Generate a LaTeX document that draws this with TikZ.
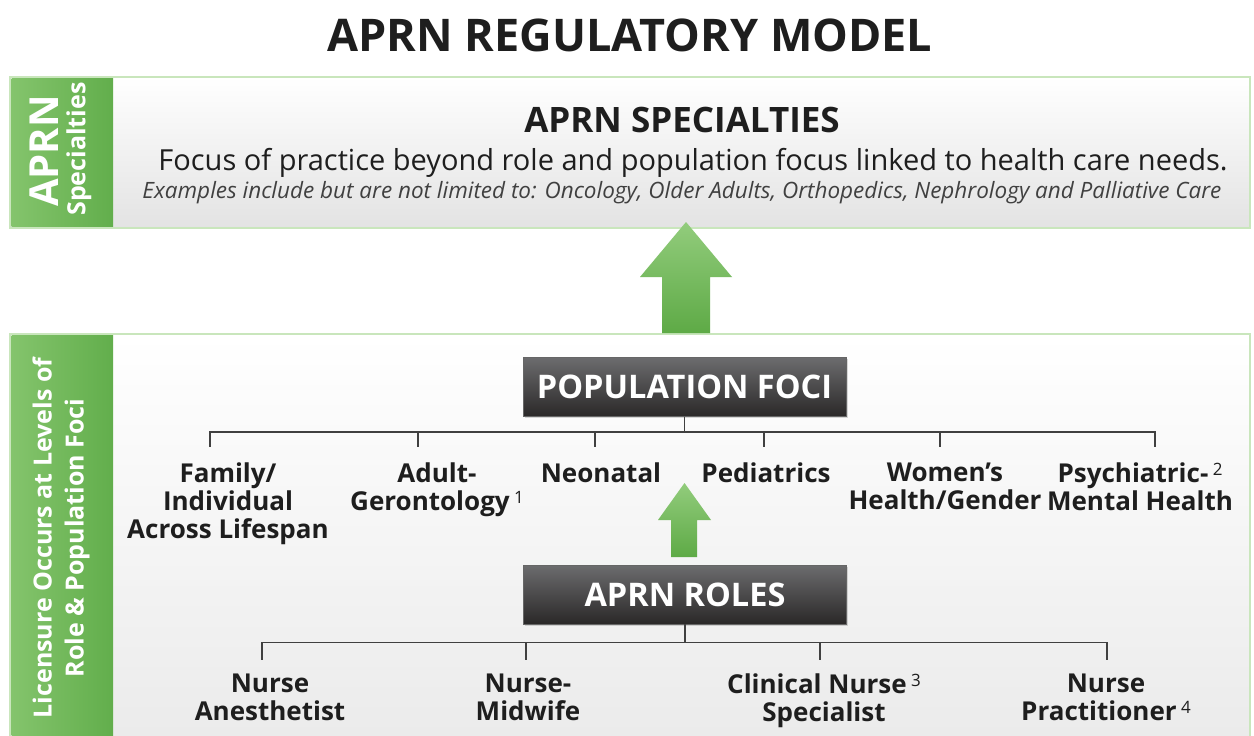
\documentclass[tikz,border=0pt]{standalone}
\usepackage{fontspec}
\setmainfont{Open Sans}
\usetikzlibrary{shadows}
\definecolor{sidegreen}{HTML}{62AE4C}
\definecolor{sidegreenL}{HTML}{84C46C}
\definecolor{boxborder}{HTML}{C9E6BC}
\definecolor{darktop}{HTML}{6C6C6E}
\definecolor{darkbot}{HTML}{2A2828}
\definecolor{arrtop}{HTML}{92CC7C}
\definecolor{arrbot}{HTML}{5EAA46}
\definecolor{txt}{HTML}{1E1E1E}
\newcommand{\supnum}[1]{\,\raisebox{0.5ex}{\fontsize{17}{17}\selectfont\normalfont #1}}
\tikzset{
  panel/.style={draw=boxborder, line width=2.5pt, top color=white, bottom color=black!11},
  sidebar/.style={left color=sidegreenL, right color=sidegreen, draw=none},
  darkbox/.style={top color=darktop, bottom color=darkbot, draw=black!60, line width=0.6pt,
     text=white, font=\fontsize{32.5}{33}\selectfont\bfseries, minimum width=323pt, minimum height=59pt,
     drop shadow={shadow xshift=1.5pt, shadow yshift=-1.5pt, opacity=0.3}},
  lab/.style={font=\fontsize{26}{28}\selectfont\bfseries, text=txt, align=center, inner sep=0pt},
  sidetxt/.style={text=white, rotate=90, inner sep=0pt, align=center},
  tree/.style={draw=black!75, line width=1.6pt},
  greenarrow/.style={top color=arrtop, bottom color=arrbot, draw=none},
}
\begin{document}
\begin{tikzpicture}[x=1pt,y=-1pt]
\useasboundingbox (0,0) rectangle (1254,736);
\fill[white] (0,0) rectangle (1254,736);
% title
\node[font=\fontsize{45}{46}\selectfont\bfseries, text=txt] (title) at (630,35) {APRN REGULATORY MODEL};
% top panel
\draw[panel] (10,77) rectangle (1250,228);
\fill[sidebar] (11.5,78.5) rectangle (113,226.5);
\node[sidetxt, font=\fontsize{40}{40}\selectfont\bfseries] (sideA) at (44,151) {APRN};
\node[sidetxt, font=\fontsize{25}{25}\selectfont\bfseries] (sideB) at (79,149) {Specialties};
\node[font=\fontsize{35}{36}\selectfont\bfseries, text=txt] (spec) at (682,120) {APRN SPECIALTIES};
\node[font=\fontsize{29}{30}\selectfont, text=txt] (focus) at (693,163) {Focus of practice beyond role and population focus linked to health care needs.};
\node[font=\fontsize{22.5}{24}\selectfont\itshape, text=black!75] (ex) at (682,193) {Examples include but are not limited to: Oncology, Older Adults, Orthopedics, Nephrology and Palliative Care};
% bottom panel
\draw[panel, bottom color=black!8] (10,334) rectangle (1250,745);
\fill[sidebar] (11.5,335.5) rectangle (113,745);
\node[sidetxt, font=\fontsize{25}{32}\selectfont\bfseries] (sideC) at (61,538) {Licensure Occurs at Levels of\\Role \& Population Foci};
% big arrow
\path[greenarrow] (686,222) -- (732,277) -- (710,277) -- (710,333) -- (662,333) -- (662,277) -- (640,277) -- cycle;
% population foci
\node[darkbox] (pf) at (684.5,387) {POPULATION FOCI};
\coordinate (p1) at (210,447);
\coordinate (p2) at (418,447);
\coordinate (p3) at (595,447);
\coordinate (p4) at (764,447);
\coordinate (p5) at (940,447);
\coordinate (p6) at (1155,447);
\foreach \p in {p1,p2,p3,p4,p5,p6}{\draw[tree] (pf.south) -- ++(0,15) -| (\p);}
\node[lab, anchor=north] (f1) at (228,463) {Family/\\Individual\\Across Lifespan};
\node[lab, anchor=north] (f2) at (437,463) {Adult-\\Gerontology\supnum{1}};
\node[lab, anchor=north] (f3) at (601,463) {Neonatal};
\node[lab, anchor=north] (f4) at (766,463) {Pediatrics};
\node[lab, anchor=north] (f5) at (945,463) {Women’s\\Health/Gender};
\node[lab, anchor=north] (f6) at (1140,463) {Psychiatric-\supnum{2}\\Mental Health};
% small arrow
\path[greenarrow] (684.5,483) -- (711,520) -- (697,520) -- (697,557) -- (671,557) -- (671,520) -- (658,520) -- cycle;
% roles
\node[darkbox] (roles) at (685,594.5) {APRN ROLES};
\coordinate (r1) at (262,660);
\coordinate (r2) at (526,660);
\coordinate (r3) at (820,660);
\coordinate (r4) at (1107,660);
\foreach \r in {r1,r2,r3,r4}{\draw[tree] (roles.south) -- ++(0,18) -| (\r);}
\node[lab, anchor=north] (n1) at (270,674) {Nurse\\Anesthetist};
\node[lab, anchor=north] (n2) at (528,674) {Nurse-\\Midwife};
\node[lab, anchor=north] (n3) at (824,674) {Clinical Nurse\supnum{3}\\Specialist};
\node[lab, anchor=north] (n4) at (1106,674) {Nurse\\Practitioner\supnum{4}};
\end{tikzpicture}
\end{document}
